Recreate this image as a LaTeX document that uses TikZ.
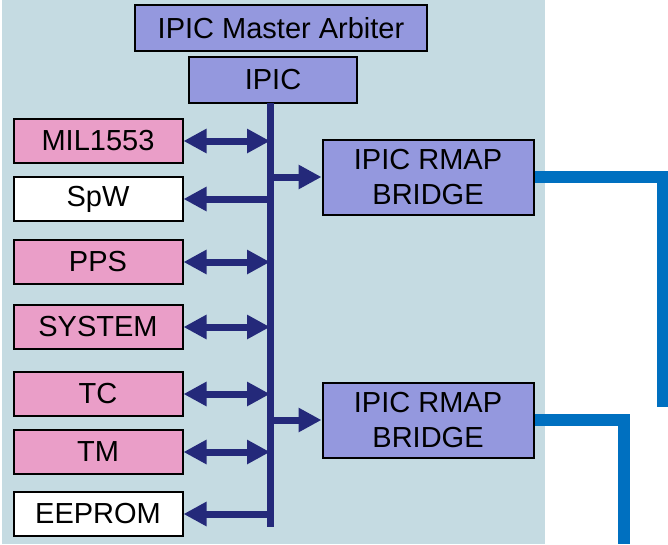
\documentclass[tikz,border=0pt]{standalone}
\usepackage{fontspec}
\setmainfont{Liberation Sans}
\usetikzlibrary{arrows.meta}
\definecolor{panel}{RGB}{197,219,226}
\definecolor{busblue}{RGB}{36,41,122}
\definecolor{linkblue}{RGB}{0,112,192}
\definecolor{ipicfill}{RGB}{148,152,222}
\definecolor{unitfill}{RGB}{234,158,200}
\tikzset{
  box/.style={draw=black, line width=2pt, inner sep=0pt, font=\fontsize{29}{35}\selectfont},
  unit/.style={box, fill=unitfill, minimum width=169pt, minimum height=44pt},
  plainunit/.style={unit, fill=white},
  bridge/.style={box, fill=ipicfill, minimum width=211pt, minimum height=75pt, align=center},
  busline/.style={draw=busblue, line width=7pt},
  busarrow/.style={busline, -{Triangle[length=23pt,width=23pt]}},
  busboth/.style={busline, {Triangle[length=23pt,width=23pt]}-{Triangle[length=23pt,width=23pt]}},
  link/.style={draw=linkblue, line width=12pt}
}
\begin{document}
\begin{tikzpicture}[x=1pt, y=-1pt]
        \useasboundingbox (0, 0) rectangle (668, 544);
        \fill[panel] (2, 0) rectangle (545, 544);
        % top of the bus
        \node[box, fill=ipicfill, minimum width=292pt, minimum height=46pt] (arb) at (281, 28) {IPIC Master Arbiter};
        \node[box, fill=ipicfill, minimum width=168pt, minimum height=46pt] (ipic) at (273, 80) {IPIC};
        \coordinate (bustop) at (270, 103);
        \coordinate (busbot) at (270, 527);
        % units on the left
        \node[unit] (mil) at (98, 141) {MIL1553};
        \node[plainunit] (spw) at (98, 199) {SpW};
        \node[unit] (pps) at (98, 262) {PPS};
        \node[unit] (sys) at (98, 327) {SYSTEM};
        \node[unit] (tc) at (98, 394) {TC};
        \node[unit] (tm) at (98, 452) {TM};
        \node[plainunit] (eeprom) at (98, 514) {EEPROM};
        % bridges on the right
        \node[bridge] (brA) at (428, 177) {IPIC RMAP\\BRIDGE};
        \node[bridge] (brB) at (428, 420) {IPIC RMAP\\BRIDGE};
        \draw[busline] (bustop) -- (busbot);
        \draw[busboth] (mil.east) -- (mil.east -| bustop);
        \draw[busarrow] (spw.east -| bustop) -- (spw.east);
        \draw[busboth] (pps.east) -- (pps.east -| bustop);
        \draw[busboth] (sys.east) -- (sys.east -| bustop);
        \draw[busboth] (tc.east) -- (tc.east -| bustop);
        \draw[busboth] (tm.east) -- (tm.east -| bustop);
        \draw[busarrow] (eeprom.east -| bustop) -- (eeprom.east);
        \draw[busarrow] (brA.west -| bustop) -- (brA.west);
        \draw[busarrow] (brB.west -| bustop) -- (brB.west);
        % links leaving the board
        \coordinate (linkAturn) at (663, 177);
        \coordinate (linkAend) at (663, 407);
        \coordinate (linkBturn) at (624, 420);
        \coordinate (linkBend) at (624, 544);
        \draw[link] (brA.east) -- (linkAturn) -- (linkAend);
        \draw[link] (brB.east) -- (linkBturn) -- (linkBend);
\end{tikzpicture}
\end{document}
